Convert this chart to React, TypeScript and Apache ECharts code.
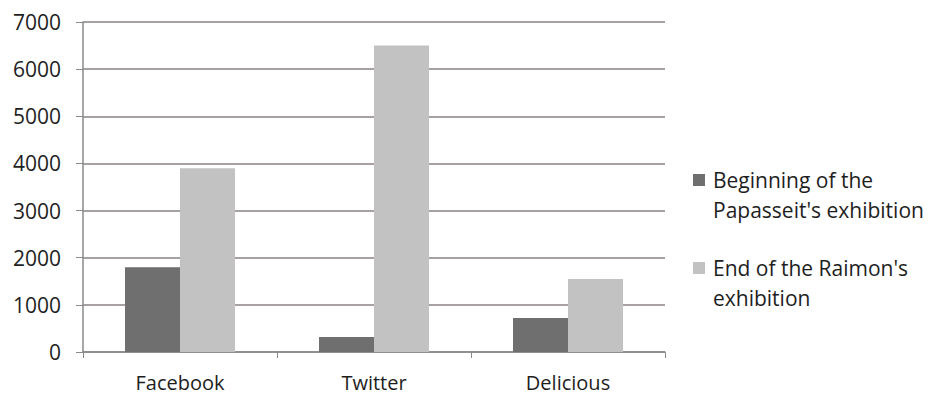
import React, { useEffect, useRef } from "react";
import * as echarts from "echarts";

const categories = ["Facebook", "Twitter", "Delicious"];
const seriesNames = ["Beginning of the\nPapasseit's exhibition", "End of the Raimon's\nexhibition"];
const beginning = [1800, 320, 720];
const endValues = [3900, 6500, 1550];
const colors = ["#6f6f6f", "#c2c2c2"];

export default function App() {
  const ref = useRef<HTMLDivElement>(null);
  useEffect(() => {
    const chart = echarts.init(ref.current!, null, { renderer: "svg" });
    const font = "'Open Sans', sans-serif";
    const legendGraphics: any[] = [];
    seriesNames.forEach((name, i) => {
      const y = 165 + i * 88;
      legendGraphics.push({ type: "rect", shape: { x: 693, y: y + 9, width: 12, height: 12 }, style: { fill: colors[i] } });
      legendGraphics.push({
        type: "text",
        x: 713,
        y: y,
        style: { text: name, fill: "#1e1e1e", font: `21px ${font}`, lineHeight: 30 },
      });
    });
    chart.setOption({
      animation: false,
      backgroundColor: "#ffffff",
      grid: { left: 83, right: 266, top: 22, bottom: 44 },
      xAxis: {
        type: "category",
        data: categories,
        axisLine: { lineStyle: { color: "#8a8a8a", width: 1.5 } },
        axisTick: { show: true, length: 6, lineStyle: { color: "#8a8a8a" } },
        axisLabel: { color: "#1e1e1e", fontSize: 20, fontFamily: font, margin: 20 },
      },
      yAxis: {
        type: "value",
        min: 0,
        max: 7000,
        interval: 1000,
        axisLine: { show: true, lineStyle: { color: "#8a8a8a", width: 1.5 } },
        axisTick: { show: true, length: 7, lineStyle: { color: "#8a8a8a" } },
        splitLine: { lineStyle: { color: "#8a8282", width: 1.5 } },
        axisLabel: { color: "#1e1e1e", fontSize: 21, fontFamily: font, margin: 22, formatter: (v: number) => String(v) },
      },
      series: [
        { type: "bar", name: seriesNames[0], data: beginning, barWidth: 55, barGap: "0%", itemStyle: { color: colors[0] } },
        { type: "bar", name: seriesNames[1], data: endValues, barWidth: 55, barGap: "0%", itemStyle: { color: colors[1] } },
      ],
      graphic: legendGraphics,
    });
    return () => chart.dispose();
  }, []);
  return <div ref={ref} style={{ position: "fixed", left: 0, top: 0, width: 931, height: 396 }} />;
}
